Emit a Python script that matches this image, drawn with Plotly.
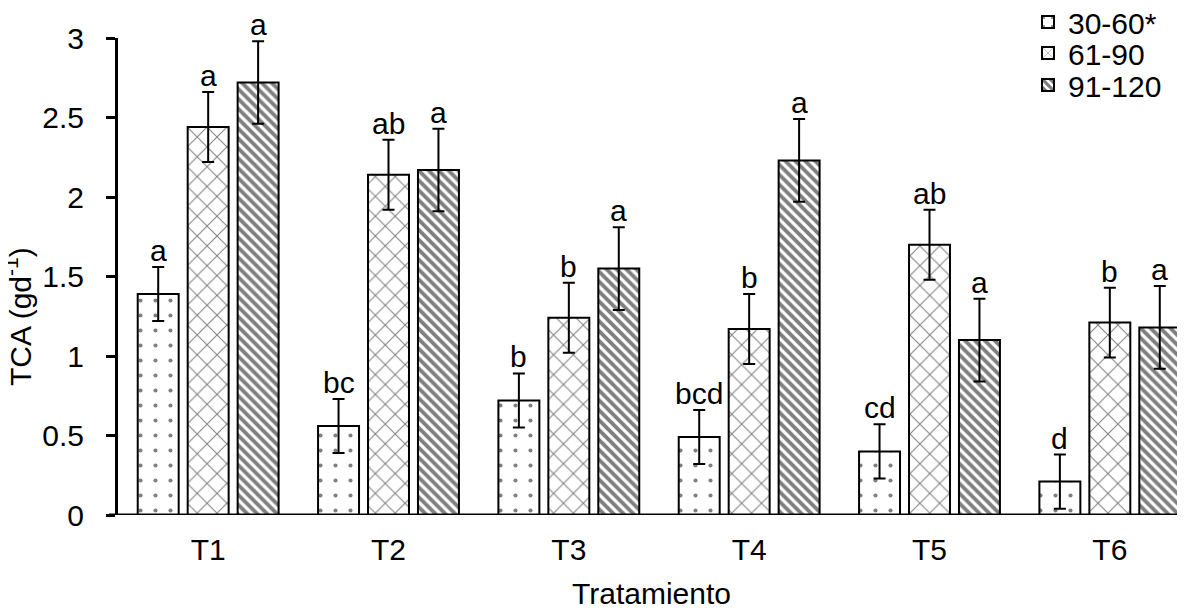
import plotly.graph_objects as go

categories = ["T1", "T2", "T3", "T4", "T5", "T6"]
series_names = ["30-60*", "61-90", "91-120"]
v_30_60 = [1.39, 0.56, 0.72, 0.49, 0.40, 0.21]
v_61_90 = [2.44, 2.14, 1.24, 1.17, 1.70, 1.21]
v_91_120 = [2.72, 2.17, 1.55, 2.23, 1.10, 1.18]
e_30_60 = [0.17, 0.17, 0.17, 0.17, 0.17, 0.17]
e_61_90 = [0.22, 0.22, 0.22, 0.22, 0.22, 0.22]
e_91_120 = [0.26, 0.26, 0.26, 0.26, 0.26, 0.26]
l_30_60 = ["a", "bc", "b", "bcd", "cd", "d"]
l_61_90 = ["a", "ab", "b", "b", "ab", "b"]
l_91_120 = ["a", "a", "a", "a", "a", "a"]
y_title = "TCA (gd<sup>-1</sup>)"
x_title = "Tratamiento"

values = [v_30_60, v_61_90, v_91_120]
errors = [e_30_60, e_61_90, e_91_120]
letters = [l_30_60, l_61_90, l_91_120]
patterns = [
    dict(shape=".", size=15, solidity=0.06, fgcolor="black", bgcolor="white", fillmode="overlay"),
    dict(shape="x", size=14, solidity=0.14, fgcolor="black", bgcolor="white", fillmode="overlay"),
    dict(shape="\\", size=7, solidity=0.55, fgcolor="black", bgcolor="white", fillmode="overlay"),
]

FONT = "Liberation Sans, Arial, sans-serif"
FS = 30

# page body has an 8px margin: figure coords = screen coords - 8
OFF = 8
W, H = 1185 - OFF, 610 - OFF
left, right_px, top, bottom = 118 - OFF, 1185 - OFF, 38 - OFF, 515 - OFF
plot_h = bottom - top
xr_right = 5.5 - 15 / 180.4

legend_names = ["legend", "legend2", "legend3"]
legend_rows_px = [22 - OFF, 53 - OFF, 85 - OFF]

fig = go.Figure()
for i in range(3):
    fig.add_trace(go.Bar(
        name=series_names[i], x=categories, y=values[i],
        legend=legend_names[i],
        marker=dict(color="white", line=dict(color="black", width=2), pattern=patterns[i]),
        error_y=dict(type="data", array=errors[i], color="black", thickness=2, width=6),
    ))

slot_px = 50
for i in range(3):
    for j, c in enumerate(categories):
        fig.add_annotation(
            x=c, y=values[i][j] + errors[i][j], text=letters[i][j],
            xref="x", yref="y", xshift=(i - 1) * slot_px, yshift=-1,
            yanchor="bottom", showarrow=False, borderpad=0,
            font=dict(family=FONT, size=FS, color="black"),
        )

# y-axis title as a rotated annotation (exact placement)
title_center_y = 317 - OFF
fig.add_annotation(
    x=0, y=(bottom - title_center_y) / plot_h, xref="paper", yref="paper", text=y_title, textangle=-90,
    xanchor="center", yanchor="middle", xshift=(25 - OFF) - left - 7, showarrow=False, borderpad=0,
    font=dict(family=FONT, size=FS, color="black"),
)

fig.add_shape(type="line", xref="paper", yref="y", x0=-9 / (right_px - left), x1=1, y0=0, y1=0,
              line=dict(color="black", width=3))

legend_cfg = {}
for i, ln in enumerate(legend_names):
    legend_cfg[ln] = dict(
        x=(1028 - OFF - left) / (right_px - left), y=(bottom - legend_rows_px[i]) / plot_h,
        xanchor="left", yanchor="middle",
        font=dict(family=FONT, size=FS, color="black"),
        bgcolor="rgba(0,0,0,0)", itemwidth=30, borderwidth=0,
    )

fig.update_layout(
    template="none",
    width=W, height=H,
    margin=dict(l=left, r=W - right_px, t=top, b=H - bottom, pad=0, autoexpand=False),
    paper_bgcolor="white", plot_bgcolor="white",
    barmode="group", bargap=0.169, bargroupgap=0.18,
    font=dict(family=FONT, size=FS, color="black"),
    showlegend=True,
    **legend_cfg,
    xaxis=dict(range=[-0.5, xr_right], showline=False, showgrid=False, zeroline=False,
               automargin=False, ticks="", ticklabelstandoff=14,
               tickfont=dict(family=FONT, size=FS, color="black"),
               title=dict(text=x_title, font=dict(family=FONT, size=FS, color="black"), standoff=24)),
    yaxis=dict(range=[0, 3], tickvals=[0, 0.5, 1, 1.5, 2, 2.5, 3],
               ticktext=["0", "0.5", "1", "1.5", "2", "2.5", "3"],
               automargin=False,
               showline=True, linecolor="black", linewidth=3, ticks="outside",
               ticklen=9, tickwidth=3, tickcolor="black", showgrid=False, zeroline=False,
               ticklabelstandoff=16,
               tickfont=dict(family=FONT, size=FS, color="black")),
)

fig.write_html("out.html")
